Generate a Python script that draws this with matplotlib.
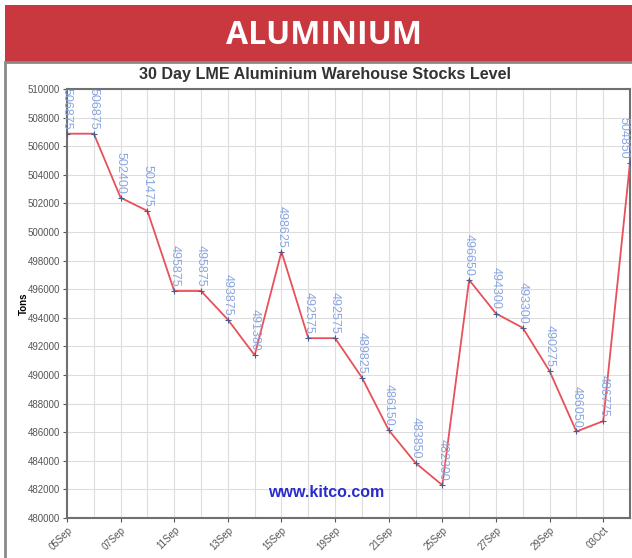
import matplotlib.pyplot as plt
from matplotlib.patches import Rectangle

days = ["05Sep", "06Sep", "07Sep", "08Sep", "11Sep", "12Sep", "13Sep", "14Sep",
        "15Sep", "18Sep", "19Sep", "20Sep", "21Sep", "22Sep", "25Sep", "26Sep",
        "27Sep", "28Sep", "29Sep", "02Oct", "03Oct", "04Oct"]
stocks = [506875, 506875, 502400, 501475, 495875, 495875, 493875, 491380,
          498625, 492575, 492575, 489825, 486150, 483850, 482300, 496650,
          494300, 493300, 490275, 486050, 486775, 504850]
y_ticks = list(range(480000, 510001, 2000))

W, H = 632, 558
fig = plt.figure(figsize=(W / 100, H / 100), dpi=100)
fig.patch.set_facecolor("white")

# red header band + white panel frame
fig.patches.append(Rectangle((5 / W, 1 - 62 / H), 1, 57 / H, transform=fig.transFigure,
                             facecolor="#c9373f", edgecolor="none", zorder=0))
fig.patches.append(Rectangle((5 / W, -0.05), 1, 1 - 62 / H + 0.05, transform=fig.transFigure,
                             facecolor="none", edgecolor="#8a8a8a", lw=2, zorder=0))
fig.text(324 / W, 1 - 35 / H, "ALUMINIUM", color="white", fontsize=23,
         fontweight="bold", family="Open Sans", ha="center", va="center")

ax = fig.add_axes([67 / W, 1 - 518 / H, 563 / W, 429 / H])
x = list(range(len(stocks)))
ax.plot(x, stocks, color="#e8505a", lw=1.3, zorder=3)
ax.plot(x, stocks, ls="none", marker="+", ms=4, mew=0.8, color="#4a5a8a", zorder=4)

last = len(stocks) - 1
for i, v in enumerate(stocks):
    ax.annotate(str(v), (i, v), xytext=(0, 3), textcoords="offset points",
                rotation=270, ha="right" if i == last else "center", va="bottom",
                fontsize=9, color="#8aa6e0", family="Liberation Sans", zorder=5)

ax.set_xlim(0, last)
ax.set_ylim(480000, 510000)
ax.set_xticks(x, minor=True)
ax.set_xticks(x[::2])
ax.set_xticklabels(days[::2], rotation=45, ha="right", rotation_mode="anchor",
                   fontsize=7, color="#555555", family="Liberation Sans")
ax.set_yticks(y_ticks)
ax.set_yticklabels([str(t) for t in y_ticks], fontsize=7, color="#555555",
                   family="Liberation Sans")
ax.tick_params(axis="both", which="major", length=3, color="#555555", pad=2)
ax.tick_params(axis="x", which="minor", length=0)
ax.grid(True, which="both", color="#dddddd", lw=0.8)
ax.set_axisbelow(True)
for s in ax.spines.values():
    s.set_color("#707070")
    s.set_linewidth(1.5)

ax.set_ylabel("Tons", fontsize=7, fontweight="bold", family="Liberation Sans", labelpad=-1)
fig.text(325 / W, 1 - 74 / H, "30 Day LME Aluminium Warehouse Stocks Level",
         fontsize=11.6, fontweight="bold", family="Liberation Sans",
         ha="center", va="center", color="#333333")
ax.text(0.46, 0.06, "www.kitco.com", transform=ax.transAxes, fontsize=11.5,
        fontweight="bold", color="#2b2bcc", family="Liberation Sans", ha="center", va="center")

plt.savefig("out.png", dpi=100)
